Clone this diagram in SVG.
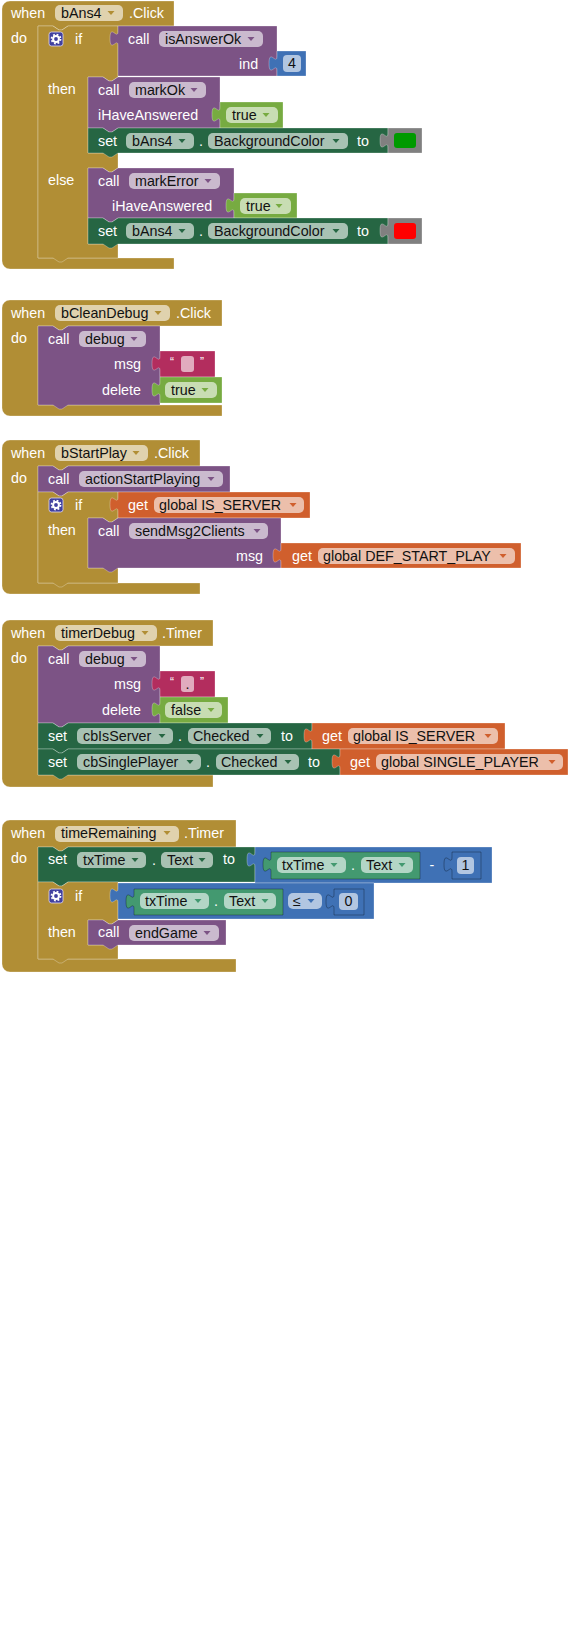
<svg xmlns="http://www.w3.org/2000/svg" xmlns:xlink="http://www.w3.org/1999/xlink" width="571" height="1631" viewBox="0 0 571 1631">
<style>
  .blk{stroke:#fff;stroke-opacity:.28;stroke-width:1}
  .inl{stroke:#000;stroke-opacity:.3;stroke-width:1}
  .ctl{fill:#B18E35}
  .pr{fill:#7C5385}
  .st{fill:#266643}
  .gt{fill:#439970}
  .lg{fill:#77AB41}
  .tx{fill:#B32D5E}
  .vr{fill:#D05F2D}
  .mt{fill:#3F71B5}
  .co{fill:#808080}
  .f{fill:#fff;fill-opacity:.6}
  .t{font-family:"Liberation Sans",Arial,sans-serif;font-size:14.3px;fill:#fff}
  .d{fill:#111}
  .e{text-anchor:end}
  .m{text-anchor:middle}
  .q{font-family:"Liberation Sans",Arial,sans-serif;font-size:12px;fill:#fff;text-anchor:middle}
</style>
<defs>
  <path id="dd" d="M-3.5,-2 h7 l-3.5,4 z"/>
  <g id="gear">
    <rect x="0" y="0" width="14" height="14" rx="2.5" fill="#40409F" stroke="#E0D8F0" stroke-width=".8"/>
    <circle cx="7" cy="7" r="2.9" fill="none" stroke="#fff" stroke-width="2"/>
    <circle cx="7" cy="7" r="4.5" fill="none" stroke="#fff" stroke-width="1.8" stroke-dasharray="1.77 1.77"/>
  </g>
</defs>

<!-- ===== when bAns4.Click ===== -->
<g id="ev-bAns4-click">
  <path class="ctl blk" d="M2,9 a8,8 0 0 1 8,-8 H174 V26 H68 l-6,4 h-3 l-6,-4 H38 V258 H174 V269 H10 a8,8 0 0 1 -8,-8 Z"/>
  <text class="t" x="11" y="18">when</text>
  <rect class="f" x="55" y="5" width="68" height="16" rx="5"/>
  <text class="t d" x="61" y="18">bAns4</text>
  <use xlink:href="#dd" class="ctl" x="111" y="13"/>
  <text class="t" x="129" y="18">.Click</text>
  <text class="t" x="11" y="43">do</text>
</g>
<g id="if-answer">
  <path class="ctl blk" d="M38,26 H53 l6,4 h3 l6,-4 H118 V77 l-6,4 h-3 l-6,-4 H88 V153 H118 V168 l-6,4 h-3 l-6,-4 H88 V244 H118 V258 H68 l-6,4 h-3 l-6,-4 H38 Z"/>
  <use xlink:href="#gear" x="49" y="32"/>
  <text class="t" x="75" y="44">if</text>
  <text class="t" x="48" y="94">then</text>
  <text class="t" x="48" y="185">else</text>
</g>
<g id="call-isAnswerOk">
  <path class="pr blk" d="M118,26 H277 V76 H118 V46 c0,-10 -8,8 -8,-7.5 s8,2.5 8,-7.5 Z"/>
  <text class="t" x="128" y="44">call</text>
  <rect class="f" x="159" y="31" width="104" height="16" rx="5"/>
  <text class="t d" x="165" y="44">isAnswerOk</text>
  <use xlink:href="#dd" class="pr" x="251" y="39"/>
  <text class="t" x="239" y="69">ind</text>
</g>
<g id="num-4">
  <path class="mt blk" d="M277,51 H306 V76 H277 V71 c0,-10 -8,8 -8,-7.5 s8,2.5 8,-7.5 Z"/>
  <rect class="f" x="283" y="55" width="18" height="17" rx="4"/>
  <text class="t d m" x="292" y="68">4</text>
</g>
<g id="call-markOk">
  <path class="pr blk" d="M88,77 H103 l6,4 h3 l6,-4 H220 V128 H118 l-6,4 h-3 l-6,-4 H88 Z"/>
  <text class="t" x="98" y="95">call</text>
  <rect class="f" x="129" y="82" width="77" height="16" rx="5"/>
  <text class="t d" x="135" y="95">markOk</text>
  <use xlink:href="#dd" class="pr" x="194" y="90"/>
  <text class="t" x="98" y="120">iHaveAnswered</text>
</g>
<g id="bool-true-1">
  <path class="lg blk" d="M220,102 H283 V128 H220 V122 c0,-10 -8,8 -8,-7.5 s8,2.5 8,-7.5 Z"/>
  <rect class="f" x="226" y="107" width="52" height="16" rx="5"/>
  <text class="t d" x="232" y="120">true</text>
  <use xlink:href="#dd" class="lg" x="266" y="115"/>
</g>
<g id="set-bg-green">
  <path class="st blk" d="M88,128 H103 l6,4 h3 l6,-4 H388 V153 H118 l-6,4 h-3 l-6,-4 H88 Z"/>
  <text class="t" x="98" y="146">set</text>
  <rect class="f" x="126" y="133" width="68" height="16" rx="5"/>
  <text class="t d" x="132" y="146">bAns4</text>
  <use xlink:href="#dd" class="st" x="182" y="141"/>
  <text class="t" x="199" y="146">.</text>
  <rect class="f" x="208" y="133" width="140" height="16" rx="5"/>
  <text class="t d" x="214" y="146">BackgroundColor</text>
  <use xlink:href="#dd" class="st" x="336" y="141"/>
  <text class="t" x="357" y="146">to</text>
</g>
<g id="color-green">
  <path class="co blk" d="M388,128 H422 V153 H388 V148 c0,-10 -8,8 -8,-7.5 s8,2.5 8,-7.5 Z"/>
  <rect x="394" y="133" width="22" height="15" rx="3" fill="#009A00"/>
</g>
<g id="call-markError">
  <path class="pr blk" d="M88,168 H103 l6,4 h3 l6,-4 H234 V218 H118 l-6,4 h-3 l-6,-4 H88 Z"/>
  <text class="t" x="98" y="186">call</text>
  <rect class="f" x="129" y="173" width="91" height="16" rx="5"/>
  <text class="t d" x="135" y="186">markError</text>
  <use xlink:href="#dd" class="pr" x="208" y="181"/>
  <text class="t" x="112" y="211">iHaveAnswered</text>
</g>
<g id="bool-true-2">
  <path class="lg blk" d="M234,193 H297 V218 H234 V213 c0,-10 -8,8 -8,-7.5 s8,2.5 8,-7.5 Z"/>
  <rect class="f" x="240" y="198" width="51" height="16" rx="5"/>
  <text class="t d" x="246" y="211">true</text>
  <use xlink:href="#dd" class="lg" x="279" y="206"/>
</g>
<g id="set-bg-red">
  <path class="st blk" d="M88,218 H103 l6,4 h3 l6,-4 H388 V244 H118 l-6,4 h-3 l-6,-4 H88 Z"/>
  <text class="t" x="98" y="236">set</text>
  <rect class="f" x="126" y="223" width="68" height="16" rx="5"/>
  <text class="t d" x="132" y="236">bAns4</text>
  <use xlink:href="#dd" class="st" x="182" y="231"/>
  <text class="t" x="199" y="236">.</text>
  <rect class="f" x="208" y="223" width="140" height="16" rx="5"/>
  <text class="t d" x="214" y="236">BackgroundColor</text>
  <use xlink:href="#dd" class="st" x="336" y="231"/>
  <text class="t" x="357" y="236">to</text>
</g>
<g id="color-red">
  <path class="co blk" d="M388,218 H422 V244 H388 V238 c0,-10 -8,8 -8,-7.5 s8,2.5 8,-7.5 Z"/>
  <rect x="394" y="223" width="22" height="16" rx="3" fill="#FF0000"/>
</g>

<!-- ===== when bCleanDebug.Click ===== -->
<g id="ev-bCleanDebug-click">
  <path class="ctl blk" d="M2,308 a8,8 0 0 1 8,-8 H222 V326 H68 l-6,4 h-3 l-6,-4 H38 V405 H222 V416 H10 a8,8 0 0 1 -8,-8 Z"/>
  <text class="t" x="11" y="318">when</text>
  <rect class="f" x="55" y="305" width="115" height="16" rx="5"/>
  <text class="t d" x="61" y="318">bCleanDebug</text>
  <use xlink:href="#dd" class="ctl" x="158" y="313"/>
  <text class="t" x="176" y="318">.Click</text>
  <text class="t" x="11" y="343">do</text>
</g>
<g id="call-debug-1">
  <path class="pr blk" d="M38,326 H53 l6,4 h3 l6,-4 H160 V405 H68 l-6,4 h-3 l-6,-4 H38 Z"/>
  <text class="t" x="48" y="344">call</text>
  <rect class="f" x="79" y="331" width="67" height="16" rx="5"/>
  <text class="t d" x="85" y="344">debug</text>
  <use xlink:href="#dd" class="pr" x="134" y="339"/>
  <text class="t e" x="141" y="369">msg</text>
  <text class="t e" x="141" y="395">delete</text>
</g>
<g id="text-empty">
  <path class="tx blk" d="M160,351 H215 V377 H160 V371 c0,-10 -8,8 -8,-7.5 s8,2.5 8,-7.5 Z"/>
  <text class="q" x="172" y="366">“</text>
  <rect class="f" x="181" y="356" width="13" height="16" rx="3"/>
  <text class="q" x="202" y="366">”</text>
</g>
<g id="bool-true-3">
  <path class="lg blk" d="M160,377 H222 V403 H160 V397 c0,-10 -8,8 -8,-7.5 s8,2.5 8,-7.5 Z"/>
  <rect class="f" x="165" y="382" width="52" height="16" rx="5"/>
  <text class="t d" x="171" y="395">true</text>
  <use xlink:href="#dd" class="lg" x="205" y="390"/>
</g>

<!-- ===== when bStartPlay.Click ===== -->
<g id="ev-bStartPlay-click">
  <path class="ctl blk" d="M2,448 a8,8 0 0 1 8,-8 H200 V466 H68 l-6,4 h-3 l-6,-4 H38 V583 H200 V594 H10 a8,8 0 0 1 -8,-8 Z"/>
  <text class="t" x="11" y="458">when</text>
  <rect class="f" x="55" y="445" width="93" height="16" rx="5"/>
  <text class="t d" x="61" y="458">bStartPlay</text>
  <use xlink:href="#dd" class="ctl" x="136" y="453"/>
  <text class="t" x="154" y="458">.Click</text>
  <text class="t" x="11" y="483">do</text>
</g>
<g id="call-actionStartPlaying">
  <path class="pr blk" d="M38,466 H53 l6,4 h3 l6,-4 H230 V492 H68 l-6,4 h-3 l-6,-4 H38 Z"/>
  <text class="t" x="48" y="484">call</text>
  <rect class="f" x="79" y="471" width="144" height="16" rx="5"/>
  <text class="t d" x="85" y="484">actionStartPlaying</text>
  <use xlink:href="#dd" class="pr" x="211" y="479"/>
</g>
<g id="if-server">
  <path class="ctl blk" d="M38,492 H53 l6,4 h3 l6,-4 H118 V518 l-6,4 h-3 l-6,-4 H88 V568 H118 V583 H68 l-6,4 h-3 l-6,-4 H38 Z"/>
  <use xlink:href="#gear" x="49" y="498"/>
  <text class="t" x="75" y="510">if</text>
  <text class="t" x="48" y="535">then</text>
</g>
<g id="get-is-server-1">
  <path class="vr blk" d="M118,492 H310 V518 H118 V512 c0,-10 -8,8 -8,-7.5 s8,2.5 8,-7.5 Z"/>
  <text class="t" x="128" y="510">get</text>
  <rect class="f" x="154" y="497" width="150" height="16" rx="5"/>
  <text class="t d" x="159" y="510">global IS_SERVER</text>
  <use xlink:href="#dd" class="vr" x="293" y="505"/>
</g>
<g id="call-sendMsg2Clients">
  <path class="pr blk" d="M88,518 H103 l6,4 h3 l6,-4 H281 V568 H118 l-6,4 h-3 l-6,-4 H88 Z"/>
  <text class="t" x="98" y="536">call</text>
  <rect class="f" x="129" y="523" width="139" height="16" rx="5"/>
  <text class="t d" x="135" y="536">sendMsg2Clients</text>
  <use xlink:href="#dd" class="pr" x="257" y="531"/>
  <text class="t e" x="263" y="561">msg</text>
</g>
<g id="get-def-start-play">
  <path class="vr blk" d="M281,543 H521 V568 H281 V563 c0,-10 -8,8 -8,-7.5 s8,2.5 8,-7.5 Z"/>
  <text class="t" x="292" y="561">get</text>
  <rect class="f" x="318" y="548" width="197" height="16" rx="5"/>
  <text class="t d" x="323" y="561">global DEF_START_PLAY</text>
  <use xlink:href="#dd" class="vr" x="503" y="556"/>
</g>

<!-- ===== when timerDebug.Timer ===== -->
<g id="ev-timerDebug-timer">
  <path class="ctl blk" d="M2,628 a8,8 0 0 1 8,-8 H213 V646 H68 l-6,4 h-3 l-6,-4 H38 V775 H213 V787 H10 a8,8 0 0 1 -8,-8 Z"/>
  <text class="t" x="11" y="638">when</text>
  <rect class="f" x="55" y="625" width="102" height="16" rx="5"/>
  <text class="t d" x="61" y="638">timerDebug</text>
  <use xlink:href="#dd" class="ctl" x="145" y="633"/>
  <text class="t" x="162" y="638">.Timer</text>
  <text class="t" x="11" y="663">do</text>
</g>
<g id="call-debug-2">
  <path class="pr blk" d="M38,646 H53 l6,4 h3 l6,-4 H160 V723 H68 l-6,4 h-3 l-6,-4 H38 Z"/>
  <text class="t" x="48" y="664">call</text>
  <rect class="f" x="79" y="651" width="67" height="16" rx="5"/>
  <text class="t d" x="85" y="664">debug</text>
  <use xlink:href="#dd" class="pr" x="134" y="659"/>
  <text class="t e" x="141" y="689">msg</text>
  <text class="t e" x="141" y="715">delete</text>
</g>
<g id="text-dot">
  <path class="tx blk" d="M160,671 H215 V697 H160 V691 c0,-10 -8,8 -8,-7.5 s8,2.5 8,-7.5 Z"/>
  <text class="q" x="172" y="686">“</text>
  <rect class="f" x="181" y="676" width="13" height="16" rx="3"/>
  <text class="t d m" x="187.5" y="689">.</text>
  <text class="q" x="202" y="686">”</text>
</g>
<g id="bool-false">
  <path class="lg blk" d="M160,697 H228 V723 H160 V717 c0,-10 -8,8 -8,-7.5 s8,2.5 8,-7.5 Z"/>
  <rect class="f" x="165" y="702" width="57" height="16" rx="5"/>
  <text class="t d" x="171" y="715">false</text>
  <use xlink:href="#dd" class="lg" x="211" y="710"/>
</g>
<g id="set-cbIsServer">
  <path class="st blk" d="M38,723 H53 l6,4 h3 l6,-4 H312 V749 H68 l-6,4 h-3 l-6,-4 H38 Z"/>
  <text class="t" x="48" y="741">set</text>
  <rect class="f" x="77" y="728" width="96" height="16" rx="5"/>
  <text class="t d" x="83" y="741">cbIsServer</text>
  <use xlink:href="#dd" class="st" x="162" y="736"/>
  <text class="t" x="178" y="741">.</text>
  <rect class="f" x="188" y="728" width="83" height="16" rx="5"/>
  <text class="t d" x="193" y="741">Checked</text>
  <use xlink:href="#dd" class="st" x="260" y="736"/>
  <text class="t" x="281" y="741">to</text>
</g>
<g id="get-is-server-2">
  <path class="vr blk" d="M312,723 H505 V749 H312 V743 c0,-10 -8,8 -8,-7.5 s8,2.5 8,-7.5 Z"/>
  <text class="t" x="322" y="741">get</text>
  <rect class="f" x="348" y="728" width="150" height="16" rx="5"/>
  <text class="t d" x="353" y="741">global IS_SERVER</text>
  <use xlink:href="#dd" class="vr" x="488" y="736"/>
</g>
<g id="set-cbSinglePlayer">
  <path class="st blk" d="M38,749 H53 l6,4 h3 l6,-4 H340 V775 H68 l-6,4 h-3 l-6,-4 H38 Z"/>
  <text class="t" x="48" y="767">set</text>
  <rect class="f" x="77" y="754" width="124" height="16" rx="5"/>
  <text class="t d" x="83" y="767">cbSinglePlayer</text>
  <use xlink:href="#dd" class="st" x="190" y="762"/>
  <text class="t" x="206" y="767">.</text>
  <rect class="f" x="216" y="754" width="83" height="16" rx="5"/>
  <text class="t d" x="221" y="767">Checked</text>
  <use xlink:href="#dd" class="st" x="288" y="762"/>
  <text class="t" x="308" y="767">to</text>
</g>
<g id="get-single-player">
  <path class="vr blk" d="M340,749 H568 V775 H340 V769 c0,-10 -8,8 -8,-7.5 s8,2.5 8,-7.5 Z"/>
  <text class="t" x="350" y="767">get</text>
  <rect class="f" x="376" y="754" width="187" height="16" rx="5"/>
  <text class="t d" x="381" y="767">global SINGLE_PLAYER</text>
  <use xlink:href="#dd" class="vr" x="552" y="762"/>
</g>

<!-- ===== when timeRemaining.Timer ===== -->
<g id="ev-timeRemaining-timer">
  <path class="ctl blk" d="M2,828 a8,8 0 0 1 8,-8 H236 V847 H68 l-6,4 h-3 l-6,-4 H38 V959 H236 V972 H10 a8,8 0 0 1 -8,-8 Z"/>
  <text class="t" x="11" y="838">when</text>
  <rect class="f" x="55" y="826" width="124" height="16" rx="5"/>
  <text class="t d" x="61" y="838">timeRemaining</text>
  <use xlink:href="#dd" class="ctl" x="167" y="833"/>
  <text class="t" x="184" y="838">.Timer</text>
  <text class="t" x="11" y="863">do</text>
</g>
<g id="set-txTime-text">
  <path class="st blk" d="M38,847 H53 l6,4 h3 l6,-4 H255 V882 H68 l-6,4 h-3 l-6,-4 H38 Z"/>
  <text class="t" x="48" y="864">set</text>
  <rect class="f" x="77" y="852" width="69" height="16" rx="5"/>
  <text class="t d" x="83" y="865">txTime</text>
  <use xlink:href="#dd" class="st" x="135" y="860"/>
  <text class="t" x="152" y="865">.</text>
  <rect class="f" x="161" y="852" width="52" height="16" rx="5"/>
  <text class="t d" x="167" y="865">Text</text>
  <use xlink:href="#dd" class="st" x="202" y="860"/>
  <text class="t" x="223" y="864">to</text>
</g>
<g id="math-minus">
  <path class="mt blk" d="M255,847 H492 V883 H255 V867 c0,-10 -8,8 -8,-7.5 s8,2.5 8,-7.5 Z"/>
  <text class="t m" x="432" y="870">-</text>
</g>
<g id="get-txTime-text-1">
  <path class="gt inl" d="M271,852 H420 V879 H271 V872 c0,-10 -8,8 -8,-7.5 s8,2.5 8,-7.5 Z"/>
  <rect class="f" x="277" y="857" width="69" height="16" rx="5"/>
  <text class="t d" x="282" y="870">txTime</text>
  <use xlink:href="#dd" class="gt" x="334" y="865"/>
  <text class="t" x="351" y="870">.</text>
  <rect class="f" x="361" y="857" width="52" height="16" rx="5"/>
  <text class="t d" x="366" y="870">Text</text>
  <use xlink:href="#dd" class="gt" x="402" y="865"/>
</g>
<g id="num-1">
  <path class="mt inl" d="M452,852 H481 V879 H452 V872 c0,-10 -8,8 -8,-7.5 s8,2.5 8,-7.5 Z"/>
  <rect class="f" x="457" y="857" width="17" height="17" rx="4"/>
  <text class="t d m" x="465.5" y="870">1</text>
</g>
<g id="if-time-up">
  <path class="ctl blk" d="M38,882 H53 l6,4 h3 l6,-4 H118 V920 l-6,4 h-3 l-6,-4 H88 V945 H118 V959 H68 l-6,4 h-3 l-6,-4 H38 Z"/>
  <use xlink:href="#gear" x="49" y="889"/>
  <text class="t" x="75" y="901">if</text>
  <text class="t" x="48" y="937">then</text>
</g>
<g id="compare-le">
  <path class="mt blk" d="M118,883 H374 V919 H118 V903 c0,-10 -8,8 -8,-7.5 s8,2.5 8,-7.5 Z"/>
  <rect class="f" x="288" y="893" width="34" height="16" rx="5"/>
  <text class="t d" x="293" y="906">≤</text>
  <use xlink:href="#dd" class="mt" x="311" y="901"/>
</g>
<g id="get-txTime-text-2">
  <path class="gt inl" d="M134,889 H283 V915 H134 V909 c0,-10 -8,8 -8,-7.5 s8,2.5 8,-7.5 Z"/>
  <rect class="f" x="140" y="893" width="69" height="16" rx="5"/>
  <text class="t d" x="145" y="906">txTime</text>
  <use xlink:href="#dd" class="gt" x="198" y="901"/>
  <text class="t" x="214" y="906">.</text>
  <rect class="f" x="224" y="893" width="52" height="16" rx="5"/>
  <text class="t d" x="229" y="906">Text</text>
  <use xlink:href="#dd" class="gt" x="265" y="901"/>
</g>
<g id="num-0">
  <path class="mt inl" d="M334,889 H364 V915 H334 V909 c0,-10 -8,8 -8,-7.5 s8,2.5 8,-7.5 Z"/>
  <rect class="f" x="339" y="893" width="19" height="17" rx="4"/>
  <text class="t d m" x="348.5" y="906">0</text>
</g>
<g id="call-endGame">
  <path class="pr blk" d="M88,920 H103 l6,4 h3 l6,-4 H226 V945 H118 l-6,4 h-3 l-6,-4 H88 Z"/>
  <text class="t" x="98" y="937">call</text>
  <rect class="f" x="129" y="925" width="90" height="16" rx="5"/>
  <text class="t d" x="135" y="938">endGame</text>
  <use xlink:href="#dd" class="pr" x="207" y="933"/>
</g>
</svg>
